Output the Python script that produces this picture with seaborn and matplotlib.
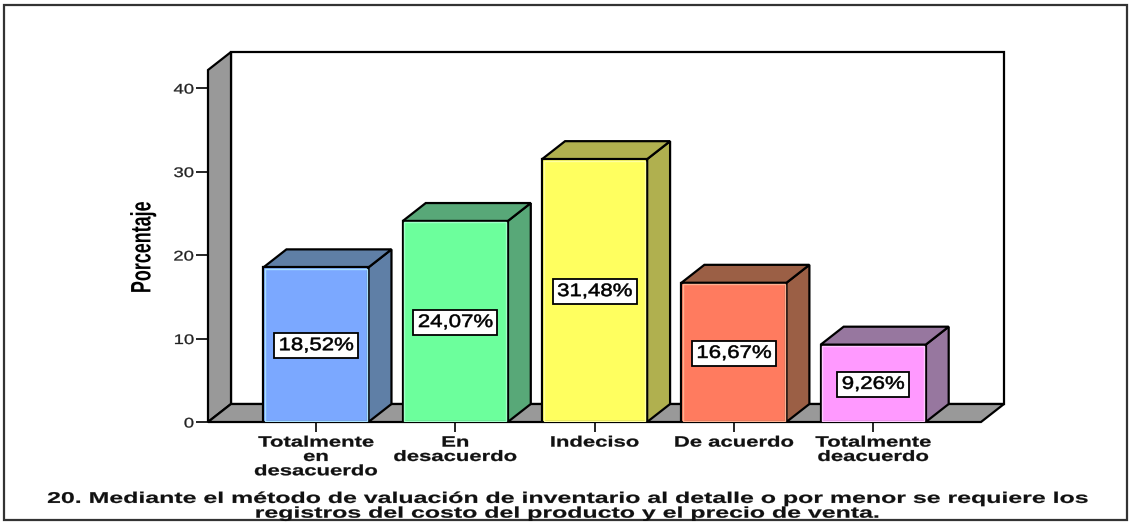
import matplotlib
matplotlib.use("Agg")
import matplotlib.pyplot as plt
from matplotlib.patches import Polygon, Rectangle
from matplotlib.patheffects import AbstractPathEffect
from matplotlib.path import Path
from matplotlib.transforms import Affine2D
import pandas as pd
import seaborn as sns

categories = ["Totalmente\nen\ndesacuerdo", "En\ndesacuerdo", "Indeciso", "De acuerdo", "Totalmente\ndeacuerdo"]
values = [18.52, 24.07, 31.48, 16.67, 9.26]
value_labels = ["18,52%", "24,07%", "31,48%", "16,67%", "9,26%"]
front_colors = ["#7BA8FF", "#6CFF9C", "#FFFF5F", "#FF7B5F", "#FF99FF"]
side_colors = ["#5F7FA6", "#58A878", "#B0B04F", "#9B5F45", "#97779F"]
top_colors = ["#5F7FA6", "#58A878", "#B0B04F", "#9B5F45", "#97779F"]
inner_colors = ["#A8E0FF", "#A0FFC8", "#FFFFA0", "#FFB090", "#FFC8FF"]
y_ticks = [0, 10, 20, 30, 40]
y_title = "Porcentaje"
caption = ("20. Mediante el método de valuación de inventario al detalle o por menor se requiere los\n"
           "registros del costo del producto y el precio de venta.")

W, H = 1129, 523
sns.set_theme(style="white")
plt.rcParams["font.family"] = ["Liberation Sans", "DejaVu Sans"]


class Stretch(AbstractPathEffect):
    """Draw a text stretched about its anchor, as in the resampled original."""
    def __init__(self, text, sx=1.0, sy=1.0, stroke=0.0):
        super().__init__()
        self.text, self.sx, self.sy, self.stroke = text, sx, sy, stroke

    def draw_path(self, renderer, gc, tpath, affine, rgbFace=None):
        px, py = self.text.get_transform().transform(self.text.get_position())
        extra = Affine2D().translate(-px, -py).scale(self.sx, self.sy).translate(px, py)
        gc0 = renderer.new_gc()
        gc0.copy_properties(gc)
        if self.stroke and rgbFace is not None:
            gc0.set_foreground(rgbFace)
            gc0.set_linewidth(self.stroke)
        renderer.draw_path(gc0, tpath, affine + extra, rgbFace)
        gc0.restore()


VALUE_SX = 1.23


def value_box(x0, y0, w, h, mutation_size=None):
    cx, cy = x0 + w / 2, y0 + h / 2
    hw, hh = w * VALUE_SX / 2 + 4.5, 12.5
    return Path([(cx - hw, cy - hh), (cx + hw, cy - hh), (cx + hw, cy + hh), (cx - hw, cy + hh), (cx - hw, cy - hh)],
                closed=True)


fig = plt.figure(figsize=(W / 100, H / 100), dpi=100, facecolor="white")
L, R, B, T = 208, 981, 422, 70
ax = fig.add_axes([L / W, 1 - B / H, (R - L) / W, (B - T) / H])
ax.patch.set_alpha(0)

df = pd.DataFrame({"cat": categories, "val": values})
sns.barplot(data=df, x="cat", y="val", hue="cat", palette=front_colors, dodge=False,
            legend=False, width=0.754, edgecolor="black", linewidth=1.6, zorder=4, ax=ax, saturation=1)

xmin, xmax = -0.775, 4.774
ymin, ymax = 0, 42.16
ax.set_xlim(xmin, xmax)
ax.set_ylim(ymin, ymax)
dx, dy = 23 / 139.3, 18 / 8.35
lw = 1.6

# walls and floor
ax.add_patch(Polygon([(xmin + dx, dy), (xmax + dx, dy), (xmax + dx, ymax + dy), (xmin + dx, ymax + dy)],
                     closed=True, fc="white", ec="black", lw=lw, clip_on=False, zorder=1))
ax.add_patch(Polygon([(xmin, 0), (xmin + dx, dy), (xmin + dx, ymax + dy), (xmin, ymax)],
                     closed=True, fc="#999999", ec="black", lw=lw, clip_on=False, zorder=1.2))
ax.add_patch(Polygon([(xmin, 0), (xmax, 0), (xmax + dx, dy), (xmin + dx, dy)],
                     closed=True, fc="#999999", ec="black", lw=lw, clip_on=False, zorder=1.2))

# depth faces and labels, derived from the bars seaborn drew
i = 0
for cont in ax.containers:
    for bar in cont.patches:
        h = bar.get_height()
        if not h or h != h:
            continue
        x0 = bar.get_x()
        x1 = x0 + bar.get_width()
        ax.add_patch(Polygon([(x1, 0), (x1 + dx, dy), (x1 + dx, h + dy), (x1, h)], closed=True,
                             fc=side_colors[i], ec="black", lw=lw, clip_on=False, zorder=3))
        ax.add_patch(Polygon([(x0, h), (x0 + dx, h + dy), (x1 + dx, h + dy), (x1, h)], closed=True,
                             fc=top_colors[i], ec="black", lw=lw, clip_on=False, zorder=3))
        ax.add_patch(Rectangle((x0 + 0.012, 0.17), bar.get_width() - 0.024, h - 0.34, fill=False,
                               ec=inner_colors[i], lw=1.0, zorder=4.5))
        t = ax.text(x0 + bar.get_width() / 2, h / 2 - 0.12, value_labels[i], ha="center", va="center",
                    fontsize=13, fontweight="normal", color="black", zorder=6,
                    bbox=dict(boxstyle=value_box, fc="white", ec="black", lw=1.3))
        t.set_path_effects([Stretch(t, VALUE_SX, stroke=0.4)])
        i += 1

ax.set_yticks(y_ticks)
ax.set_xticks(range(len(categories)))
ax.set_xticklabels(categories, fontsize=10.8, fontweight="bold", linespacing=1.03, color="#111111")
ax.tick_params(axis="y", length=9, width=1.2, color="black", labelsize=10, pad=1, left=True, labelcolor="#222222")
ax.tick_params(axis="x", length=7, width=1.2, color="black", pad=2.8, bottom=True)
for lab in ax.get_xticklabels():
    lab.set_path_effects([Stretch(lab, 1.47, stroke=0.2)])
for lab in ax.get_yticklabels():
    lab.set_path_effects([Stretch(lab, 1.33, stroke=0.2)])
for s in ax.spines.values():
    s.set_visible(False)
ax.set_xlabel("")
ax.set_ylabel(y_title, fontsize=15, fontweight="bold", color="black", va="center", ha="center")
ax.yaxis.set_label_coords((143 - L) / (R - L), (B - 247) / (B - T))
ax.yaxis.label.set_path_effects([Stretch(ax.yaxis.label, 1.35, 0.86)])

cap = fig.text(566.5 / W, 1 - 505.8 / H, caption, ha="center", va="center", fontsize=11.2, fontweight="bold",
               linespacing=0.98, color="#111111")
cap.set_path_effects([Stretch(cap, 1.6, stroke=0.15)])

fig.add_artist(Rectangle((3.5 / W, 1 - 520 / H), (1127 - 3.5) / W, (520 - 5) / H, transform=fig.transFigure,
                         fill=False, ec="#333333", lw=1.6))
fig.savefig("out.png", dpi=100)
